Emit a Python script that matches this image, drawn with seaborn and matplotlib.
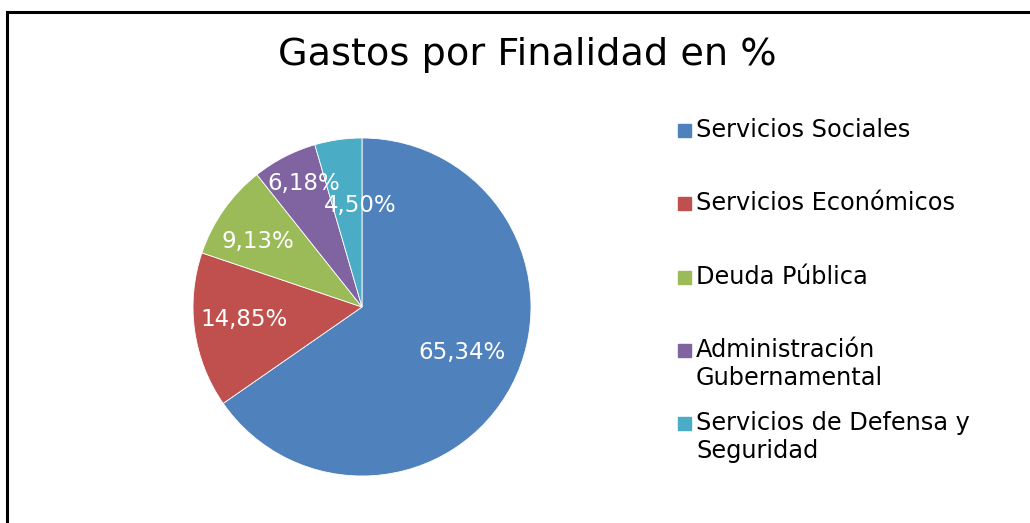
import numpy as np
import matplotlib
matplotlib.use("Agg")
import matplotlib.pyplot as plt
import matplotlib.patches as mpatches
import seaborn as sns

# data
categories = ["Servicios Sociales", "Servicios Económicos", "Deuda Pública",
              "Administración Gubernamental", "Servicios de Defensa y Seguridad"]
legend_labels = ["Servicios Sociales", "Servicios Económicos", "Deuda Pública",
                 "Administración\nGubernamental", "Servicios de Defensa y\nSeguridad"]
shares = [65.34, 14.85, 9.13, 6.18, 4.50]
colors = ["#4F81BD", "#C0504D", "#9BBB59", "#8064A2", "#4BACC6"]

# label placement (fraction of radius, angle nudge in degrees)
label_dist = [0.65, 0.70, 0.73, 0.81, 0.60]
label_nudge = [3, -2, 3, -2, -7]

sns.set_theme(style="white")
plt.rcParams["font.family"] = ["DejaVu Sans"]

W, H = 1030, 523
fig = plt.figure(figsize=(W / 100, H / 100), dpi=100)

# pie axes: centre (362, 307), radius 169 px
cx, cy, r = 362, 307, 169
ax = fig.add_axes([(cx - r) / W, (H - cy - r) / H, 2 * r / W, 2 * r / H])
wedges, _ = ax.pie(shares, colors=colors, startangle=90, counterclock=False,
                   wedgeprops=dict(edgecolor="white", linewidth=0.6))
ax.set_xlim(-1, 1)
ax.set_ylim(-1, 1)
ax.set_aspect("equal")
ax.axis("off")

for w, val, d, nud in zip(wedges, shares, label_dist, label_nudge):
    ang = np.deg2rad((w.theta1 + w.theta2) / 2 + nud)
    ax.text(d * np.cos(ang), d * np.sin(ang), f"{val:.2f}%".replace(".", ","),
            ha="center", va="center", color="white", fontsize=16.5)

# title
fig.text(527 / W, 1 - 55 / H, "Gastos por Finalidad en %", ha="center", va="center",
         fontsize=27.5, color="black")

# legend rows (first-line centre y in px)
row_y = [130, 203, 277, 350, 423]
for lab, col, y in zip(legend_labels, colors, row_y):
    fig.patches.append(mpatches.Rectangle((678 / W, 1 - (y + 7) / H), 13 / W, 13 / H,
                                          transform=fig.transFigure, color=col))
    fig.text(696 / W, 1 - (y - 12) / H, lab, ha="left", va="top", fontsize=17.3,
             color="black", linespacing=1.22)

# outer frame (cropped at right and bottom)
fig.patches.append(mpatches.Rectangle((7 / W, -0.2), 1.2, 1.2 - 12 / H,
                                      transform=fig.transFigure, fill=False,
                                      edgecolor="black", linewidth=2.2))

fig.savefig("out.png", dpi=100)
